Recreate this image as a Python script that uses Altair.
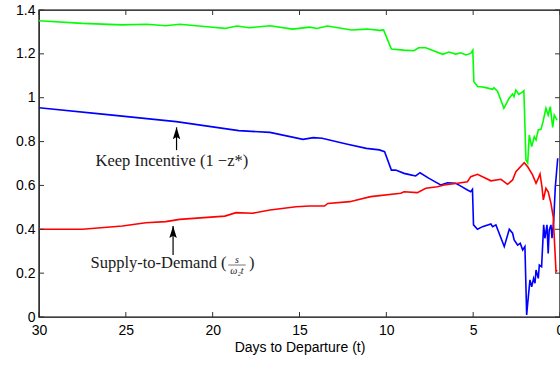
import altair as alt
import pandas as pd

# ---- data ----
green_t = [30, 27.5, 25.2, 23.8, 22.7, 21.9, 20.0, 19.3, 18.6, 17.9, 16.7, 15.4, 14.4, 14.0, 13.4, 12.0, 11.1, 10.4, 10.16, 9.71,
           9.0, 8.42, 8.14, 7.73, 6.75, 6.4, 6.0, 5.71, 5.42, 5.14, 5.02, 4.96, 4.73, 4.56, 4.27, 3.88, 3.81, 3.6, 3.23, 2.94,
           2.73, 2.65, 2.54, 2.37, 2.15, 2.08, 1.96, 1.86, 1.77, 1.63, 1.48, 1.38, 1.25, 1.1, 1.0, 0.81, 0.68, 0.56, 0.42, 0.33, 0.17]
green_v = [1.351, 1.339, 1.332, 1.335, 1.328, 1.335, 1.321, 1.316, 1.327, 1.319, 1.328, 1.313, 1.322, 1.316, 1.327, 1.309, 1.313, 1.307, 1.309, 1.222,
           1.217, 1.214, 1.228, 1.228, 1.198, 1.208, 1.199, 1.205, 1.195, 1.202, 1.217, 1.073, 1.05, 1.05, 1.046, 1.038, 1.046, 1.03, 0.952, 0.997,
           1.017, 1.005, 1.035, 1.015, 1.027, 1.032, 0.716, 0.702, 0.83, 0.777, 0.822, 0.807, 0.853, 0.856, 0.883, 0.952, 0.921, 0.959, 0.865, 0.921, 0.898]

blue_t = [30, 26.2, 22.1, 18.5, 16.7, 14.8, 14.2, 13.7, 12.3, 11.15, 10.4, 10.1, 9.71, 9.46, 8.98, 8.6, 8.31, 8.06, 7.54, 6.87,
          6.48, 6.0, 5.71, 5.33, 5.14, 5.04, 4.98, 4.75, 4.46, 3.98, 3.88, 3.69, 3.21, 2.92, 2.73, 2.64, 2.44, 2.29, 2.15, 2.02,
          1.92, 1.86, 1.73, 1.63, 1.52, 1.44, 1.38, 1.25, 1.19, 1.06, 0.94, 0.87, 0.75, 0.68, 0.62, 0.52, 0.46, 0.36, 0.27, 0.13]
blue_v = [0.954, 0.924, 0.891, 0.85, 0.842, 0.81, 0.818, 0.815, 0.789, 0.769, 0.762, 0.754, 0.67, 0.67, 0.655, 0.648, 0.643, 0.658, 0.632, 0.602,
          0.612, 0.61, 0.597, 0.579, 0.571, 0.582, 0.42, 0.40, 0.412, 0.424, 0.412, 0.42, 0.321, 0.40, 0.382, 0.351, 0.328, 0.336, 0.306, 0.321,
          0.009, 0.062, 0.169, 0.138, 0.176, 0.154, 0.214, 0.176, 0.237, 0.229, 0.42, 0.359, 0.42, 0.29, 0.397, 0.42, 0.359, 0.442, 0.594, 0.724]

red_t = [30, 27.5, 25.2, 23.85, 22.7, 21.9, 19.3, 18.65, 17.7, 16.7, 15.2, 14.4, 13.56, 13.37, 12.1, 11.7, 10.9, 9.17, 8.98, 8.21,
         7.73, 7.06, 6.67, 5.9, 5.33, 5.14, 4.75, 3.98, 3.4, 3.02, 2.73, 2.54, 2.06, 1.86, 1.58, 1.38, 1.29, 1.15, 1.04, 0.96,
         0.81, 0.68, 0.52, 0.39, 0.23, 0.17]
red_v = [0.40, 0.40, 0.415, 0.43, 0.435, 0.445, 0.46, 0.476, 0.473, 0.488, 0.503, 0.506, 0.506, 0.518, 0.526, 0.534, 0.549, 0.564, 0.571, 0.567,
         0.587, 0.594, 0.602, 0.61, 0.617, 0.64, 0.651, 0.621, 0.628, 0.605, 0.625, 0.663, 0.704, 0.685, 0.648, 0.61, 0.625, 0.652, 0.594, 0.534,
         0.587, 0.571, 0.518, 0.457, 0.207, 0.214]

x_ticks = [30, 25, 20, 15, 10, 5, 0]
y_ticks = [0, 0.2, 0.4, 0.6, 0.8, 1.0, 1.2, 1.4]

series_names = ["green", "blue", "red"]
series_colors = ["#00ff00", "#0000ff", "#ff0000"]

# annotation texts and anchor points (in data units)
keep_label = "Keep Incentive (1 \u2212z*)"
supply_label = "Supply-to-Demand ("
frac_num = "s"
frac_den = "\u03c9\u2082t"
close_paren = ")"
arrow_x = [22.08, 22.28]
arrow_tip = [0.865, 0.415]
arrow_base = [0.761, 0.283]

# ---- build tables ----
rows = []
for name, ts, vs in [("blue", blue_t, blue_v), ("red", red_t, red_v), ("green", green_t, green_v)]:
    for i, (t, v) in enumerate(zip(ts, vs)):
        rows.append({"series": name, "t": t, "v": v, "i": i})
lines_df = pd.DataFrame(rows)

X_DOM = [30, 0]
xs = alt.Scale(domain=X_DOM, nice=False, zero=False)
ys = alt.Scale(domain=[0, 1.4], nice=False)

base_font = "Liberation Sans"
serif = "Liberation Serif"
ann_size = 16.5
ann_col = "#1a1a1a"

lines = alt.Chart(lines_df).mark_line(strokeWidth=1.6, clip=True).encode(
    x=alt.X("t:Q", scale=xs,
            axis=alt.Axis(values=x_ticks, title="Days to Departure (t)", ticks=False, tickSize=0,
                          domain=False, grid=False, labelFlush=False, labelPadding=6,
                          labelFont=base_font, labelFontSize=14, labelColor="black",
                          titleFont=base_font, titleFontSize=14, titleFontWeight="normal",
                          titleColor="black", titlePadding=3, format="d")),
    y=alt.Y("v:Q", scale=ys,
            axis=alt.Axis(values=y_ticks, title=None, ticks=False, tickSize=0, domain=False, grid=False,
                          labelPadding=4, labelFont=base_font, labelFontSize=14, labelColor="black",
                          format="~g")),
    color=alt.Color("series:N", scale=alt.Scale(domain=series_names, range=series_colors), legend=None),
    detail="series:N",
    order="i:Q",
)

xt_df = pd.DataFrame({"t": x_ticks})
yt_df = pd.DataFrame({"v": y_ticks})
tick_col = "#333333"
tk = 5
x_ticks_bot = alt.Chart(xt_df).mark_rule(color=tick_col, strokeWidth=1).encode(
    x=alt.X("t:Q", scale=xs), y=alt.value(307), y2=alt.value(307 - tk))
x_ticks_top = alt.Chart(xt_df).mark_rule(color=tick_col, strokeWidth=1).encode(
    x=alt.X("t:Q", scale=xs), y=alt.value(0), y2=alt.value(tk))
y_ticks_left = alt.Chart(yt_df).mark_rule(color=tick_col, strokeWidth=1).encode(
    y=alt.Y("v:Q", scale=ys), x=alt.value(0), x2=alt.value(tk))
y_ticks_right = alt.Chart(yt_df).mark_rule(color=tick_col, strokeWidth=1).encode(
    y=alt.Y("v:Q", scale=ys), x=alt.value(521), x2=alt.value(521 - tk))

arr_df = pd.DataFrame({"t": arrow_x, "tip": arrow_tip, "base": arrow_base})
stems = alt.Chart(arr_df).mark_rule(color="black", strokeWidth=1.2).encode(
    x=alt.X("t:Q", scale=xs), y=alt.Y("tip:Q", scale=ys), y2="base:Q")
heads = alt.Chart(arr_df).mark_point(
    shape="M0,-1L0.5,0.6L0,0.3L-0.5,0.6Z", size=225, filled=True, color="black", opacity=1, yOffset=7.5
).encode(x=alt.X("t:Q", scale=xs), y=alt.Y("tip:Q", scale=ys))

keep_df = pd.DataFrame({"t": [22.35], "v": [0.713], "txt": [keep_label]})
keep_text = alt.Chart(keep_df).mark_text(font=serif, fontSize=ann_size, align="center", baseline="middle", color=ann_col).encode(
    x=alt.X("t:Q", scale=xs), y=alt.Y("v:Q", scale=ys), text="txt:N")

sup_df = pd.DataFrame({"t": [19.2], "v": [0.246], "txt": [supply_label]})
sup_text = alt.Chart(sup_df).mark_text(font=serif, fontSize=ann_size, align="right", baseline="middle", color=ann_col).encode(
    x=alt.X("t:Q", scale=xs), y=alt.Y("v:Q", scale=ys), text="txt:N")

frac_df = pd.DataFrame({"t": [18.6, 18.6], "v": [0.262, 0.212], "txt": [frac_num, frac_den]})
frac_text = alt.Chart(frac_df).mark_text(font=serif, fontSize=10, fontStyle="italic", align="center", baseline="middle",
                                         color=ann_col).encode(
    x=alt.X("t:Q", scale=xs), y=alt.Y("v:Q", scale=ys), text="txt:N")
bar_df = pd.DataFrame({"t": [19.1], "t2": [18.1], "v": [0.237]})
frac_bar = alt.Chart(bar_df).mark_rule(color=ann_col, strokeWidth=0.6).encode(
    x=alt.X("t:Q", scale=xs), x2="t2:Q", y=alt.Y("v:Q", scale=ys))
cp_df = pd.DataFrame({"t": [17.75], "v": [0.246], "txt": [close_paren]})
cp_text = alt.Chart(cp_df).mark_text(font=serif, fontSize=ann_size, align="center", baseline="middle", color=ann_col).encode(
    x=alt.X("t:Q", scale=xs), y=alt.Y("v:Q", scale=ys), text="txt:N")

chart = alt.layer(
    lines, x_ticks_bot, x_ticks_top, y_ticks_left, y_ticks_right,
    stems, heads, keep_text, sup_text, frac_text, frac_bar, cp_text
).properties(
    width=521, height=307,
    padding={"left": 39, "top": 10, "right": 0, "bottom": 48},
    autosize=alt.AutoSizeParams(type="none"),
    background="white",
).configure_view(stroke="black", strokeWidth=1.4)

chart.save("out.html", embed_options={"renderer": "svg", "actions": False})
